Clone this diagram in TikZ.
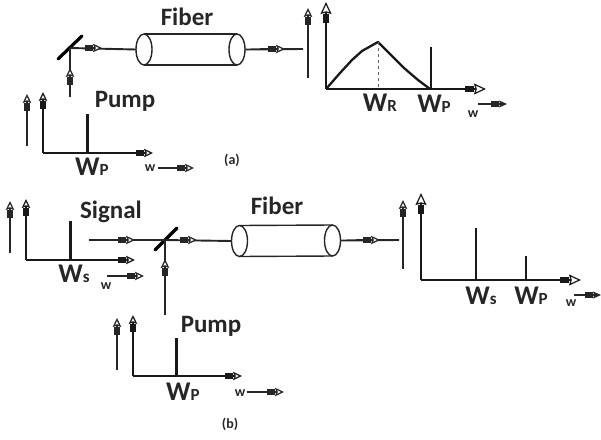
\documentclass[tikz,border=0pt]{standalone}
\usepackage{fontspec}
\setmainfont{Carlito}
\usetikzlibrary{arrows.meta,shapes.geometric}
\tikzset{
  x=1pt,y=-1pt,
  ln/.style={line width=1.9pt,black!85},
  thinline/.style={line width=1.3pt,black!85},
  bigtip/.style={-{Rectangle[length=9pt,width=6pt]Stealth[fill=white,length=12pt,width=11pt,inset=1.5pt,line width=1.2pt]}},
  midtip/.style={-{Rectangle[length=8pt,width=5.5pt]Stealth[fill=white,length=9pt,width=8.5pt,inset=1.5pt,line width=1.2pt]}},
  blacktip/.style={-{Rectangle[length=8pt,width=5.5pt]Stealth[length=8pt,width=7pt,inset=1.5pt]}},
  flow/.style={ln,midtip},
  axisline/.style={line width=2.1pt,black!90,midtip},
  bigaxis/.style={line width=1.8pt,black!90,bigtip},
  spikeline/.style={line width=3pt,black!90},
  peakline/.style={line width=2.4pt,black!90},
  mirrorline/.style={line width=3.2pt,black,line cap=round},
  fibre/.style={draw,ellipse,line width=1.4pt,black!85,fill=white,minimum width=16pt,minimum height=31pt,inner sep=0pt,outer sep=0pt},
  tube/.style={line width=1.4pt,black!85},
  ttl/.style={font=\bfseries\fontsize{25}{25}\selectfont,inner sep=0pt,text=black!85},
  wl/.style={font=\bfseries\fontsize{27}{27}\selectfont,inner sep=0pt,text=black!85},
  smallw/.style={font=\bfseries\fontsize{14}{14}\selectfont,inner sep=0pt,text=black!85},
  captxt/.style={font=\bfseries\fontsize{14}{14}\selectfont,inner sep=0pt,text=black!85},
}
\newcommand{\wlab}[3]{\node[wl] (#1) at (#2) {W\fontsize{17}{17}\selectfont #3};}
\begin{document}
\begin{tikzpicture}
\useasboundingbox (0,0) rectangle (601,439);
% ===== (a) =====
\node[ttl] (fiberA) at (187,17) {Fiber};
\coordinate (mA) at (70,48);
\draw[mirrorline] (58,59) -- (82,36);
\node[fibre] (aR) at (237,49.5) {};
\node[fibre] (aL) at (144,49.5) {};
\draw[tube] (aL.north) -- (aR.north) (aL.south) -- (aR.south);
\coordinate (aEnd) at (303,49);
\coordinate (aIn) at (70,97);
\draw[ln] (mA) -- (aL.west);
\draw[ln] (aR.east) -- (aEnd);
\draw[ln] (aIn) -- (mA);
\draw[flow] (86,48) -- (102,48);
\draw[flow] (260,49) -- (285,49);
\draw[flow] (70,86) -- (70,68);
% pump (a)
\node[ttl] (pumpA) at (125,101) {Pump};
\draw[thinline,midtip] (27,146) -- (27,94);
\coordinate (o1) at (43,153);
\draw[axisline] (o1) -- (43,92);
\draw[axisline] (o1) -- (153,153);
\draw[spikeline] (87,153) -- (87,114);
\wlab{wp1}{92,167}{P}
\node[smallw] (w1) at (150,168) {w};
\draw[thinline,midtip] (158,168) -- (194,168);
\node[captxt] (capa) at (232,160) {(a)};
% output (a)
\draw[thinline,midtip] (308,78) -- (308,8);
\coordinate (o2) at (326,89);
\draw[bigaxis] (o2) -- (326,2);
\draw[bigaxis] (o2) -- (486,89);
\draw[line width=2.3pt,black!90,line join=round] (o2) -- (340,73) -- (352,60) -- (362,51) -- (378,42) -- (392,56) -- (404,68) -- (418,80) -- (430,89);
\draw[dashed,line width=.6pt,black!60] (378,42) -- (378,89);
\draw[peakline] (431,89) -- (431,47);
\wlab{wr}{380,103}{R}
\wlab{wp2}{434,104}{P}
\node[smallw] (w2) at (473,114) {w};
\draw[thinline,blacktip] (478,104) -- (507,104);
% ===== (b) =====
\node[ttl] (fiberB) at (277,206) {Fiber};
\node[ttl] (signal) at (111,212) {Signal};
\coordinate (mB) at (165,240);
\draw[mirrorline] (155,250) -- (177,228);
\node[fibre] (bR) at (332.5,240.5) {};
\node[fibre] (bL) at (239.5,241) {};
\draw[tube] (bL.north) -- (bR.north) (bL.south) -- (bR.south);
\coordinate (bStart) at (89,240);
\coordinate (bEnd) at (399,240);
\coordinate (bIn) at (165,315);
\draw[ln] (bStart) -- (mB);
\draw[ln] (mB) -- (bL.west);
\draw[ln] (bR.east) -- (bEnd);
\draw[ln] (bIn) -- (mB);
\draw[flow] (119,240) -- (135,240);
\draw[flow] (181,240) -- (197,240);
\draw[flow] (356,240) -- (380,240);
\draw[flow] (165,277) -- (165,259);
% signal axes
\draw[thinline,midtip] (10,253) -- (10,201);
\coordinate (o3) at (26,260);
\draw[axisline] (o3) -- (26,199);
\draw[axisline] (o3) -- (135,260);
\draw[spikeline] (70,260) -- (70,221);
\wlab{ws1}{74,274}{s}
\node[smallw] (w3) at (106,286) {w};
\draw[thinline,midtip] (107,276) -- (144,276);
% pump (b)
\node[ttl] (pumpB) at (211,326) {Pump};
\draw[thinline,midtip] (117,370) -- (117,318);
\coordinate (o4) at (133,376);
\draw[axisline] (o4) -- (133,315);
\draw[axisline] (o4) -- (242,376);
\draw[spikeline] (176,376) -- (176,338);
\wlab{wp3}{183,392}{P}
\node[smallw] (w4) at (240,393) {w};
\draw[thinline,midtip] (247,392) -- (284,392);
\node[captxt] (capb) at (230,424) {(b)};
% output (b)
\draw[thinline,midtip] (403,269) -- (403,200);
\coordinate (o5) at (421,280);
\draw[bigaxis] (o5) -- (421,193);
\draw[bigaxis] (o5) -- (581,280);
\draw[peakline] (476,280) -- (476,228);
\draw[peakline] (526,280) -- (526,256);
\wlab{ws2}{481,296}{s}
\wlab{wp4}{531,296}{P}
\node[smallw] (w5) at (571,303) {w};
\draw[thinline,blacktip] (574,295) -- (601,295);
\end{tikzpicture}
\end{document}
